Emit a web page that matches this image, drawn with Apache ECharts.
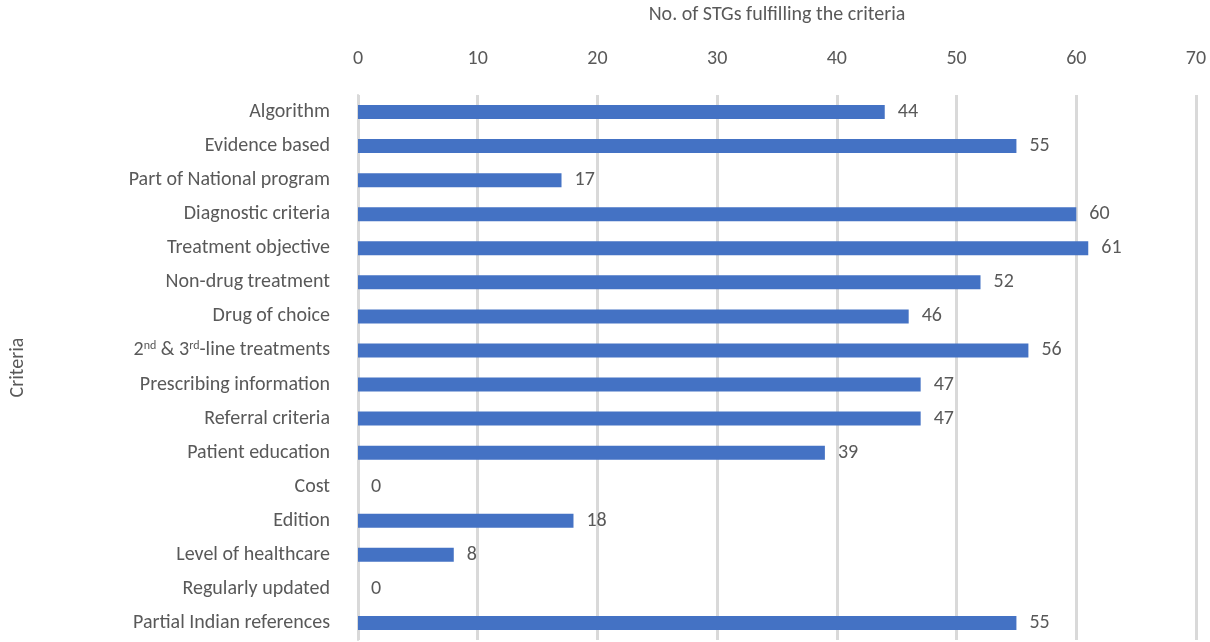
<!DOCTYPE html>
<html><head><meta charset="utf-8">
<script src="https://cdn.jsdelivr.net/npm/echarts@6/dist/echarts.min.js"></script>
<style>html,body{margin:0;padding:0;background:#fff}#c{width:1210px;height:642px}</style>
</head><body><div id="c"></div>
<script>
const categories = ["Algorithm","Evidence based","Part of National program","Diagnostic criteria","Treatment objective","Non-drug treatment","Drug of choice","2nd & 3rd-line treatments","Prescribing information","Referral criteria","Patient education","Cost","Edition","Level of healthcare","Regularly updated","Partial Indian references"];
const values = [44,55,17,60,61,52,46,56,47,47,39,0,18,8,0,55];
const xTicks = {min:0,max:70,interval:10};
const chart = echarts.init(document.getElementById('c'));
const font = 'Calibri, Carlito, "Open Sans", sans-serif';
chart.setOption({
  animation:false,
  grid:{left:341,right:14,top:85,bottom:2},
  xAxis:{type:'value',position:'top',min:xTicks.min,max:xTicks.max,interval:xTicks.interval,
    name:'No. of STGs fulfilling the criteria',nameLocation:'middle',nameGap:70,
    nameTextStyle:{fontSize:20,color:'#595959',fontFamily:font},
    axisLabel:{fontSize:20,color:'#595959',fontFamily:font,margin:26},
    axisLine:{show:false},axisTick:{show:false},
    splitLine:{lineStyle:{color:'#d9d9d9',width:3}}},
  yAxis:{type:'category',data:categories,inverse:true,
    name:'Criteria',nameLocation:'middle',nameGap:330,nameRotate:90,
    nameTextStyle:{fontSize:20,color:'#595959',fontFamily:font},
    axisLine:{show:true,lineStyle:{color:'#d9d9d9',width:2}},axisTick:{show:false},
    axisLabel:{fontSize:20,color:'#595959',fontFamily:font,margin:28,
      formatter:v=>v.replace('2nd','2{sup|nd}').replace('3rd','3{sup|rd}'),
      rich:{sup:{fontSize:12,verticalAlign:'top',padding:[0,0,8,0],color:'#595959',fontFamily:font}}}},
  series:[{type:'bar',data:values,barWidth:14,itemStyle:{color:'#4472C4'},
    label:{show:true,position:'right',distance:13,fontSize:20,color:'#595959',fontFamily:font}}]
});
</script></body></html>
